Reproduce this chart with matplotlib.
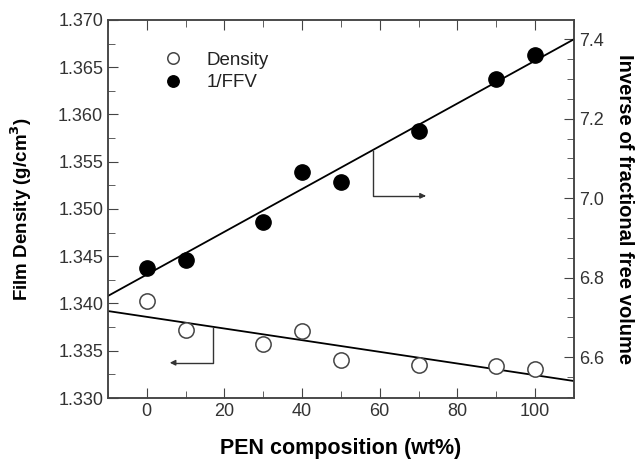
import matplotlib
matplotlib.use('Agg')
import matplotlib.pyplot as plt
from matplotlib.ticker import MultipleLocator

plt.rcParams['font.family'] = ['Liberation Sans', 'DejaVu Sans']

# PEN composition (wt%)
pen = [0, 10, 30, 40, 50, 70, 90, 100]
# film density (g/cm3), left axis
density = [1.3403, 1.3372, 1.3357, 1.3371, 1.3340, 1.3335, 1.3334, 1.3331]
# inverse of fractional free volume, right axis
inv_ffv = [6.825, 6.844, 6.939, 7.067, 7.042, 7.170, 7.300, 7.361]

# linear fits drawn across the plot
fit_x = [-10, 110]
density_fit = [1.3392, 1.3318]
ffv_fit = [6.754, 7.400]

fig = plt.figure(figsize=(6.39, 4.62), dpi=100)
ax1 = fig.add_subplot(111)
fig.subplots_adjust(left=0.169, right=0.898, top=0.957, bottom=0.1385)
ax2 = ax1.twinx()

tick_col = '#333333'
ax1.plot(fit_x, density_fit, color='k', lw=1.3)
l1, = ax1.plot(pen, density, 'o', mfc='white', mec='#444444', mew=1.1, ms=11,
               label='Density', zorder=3)
ax2.plot(fit_x, ffv_fit, color='k', lw=1.3)
l2, = ax2.plot(pen, inv_ffv, 'o', color='k', ms=11, label='1/FFV', zorder=3)

ax1.set_xlim(-10, 110)
ax1.set_ylim(1.330, 1.370)
ax2.set_ylim(6.497, 7.449)

ax1.xaxis.set_major_locator(MultipleLocator(20))
ax1.xaxis.set_minor_locator(MultipleLocator(10))
ax1.yaxis.set_major_locator(MultipleLocator(0.005))
ax1.yaxis.set_minor_locator(MultipleLocator(0.0025))
ax1.yaxis.set_major_formatter(plt.FormatStrFormatter('%.3f'))
ax2.yaxis.set_major_locator(MultipleLocator(0.2))
ax2.yaxis.set_minor_locator(MultipleLocator(0.05))
ax2.yaxis.set_major_formatter(plt.FormatStrFormatter('%.1f'))

ax1.tick_params(which='both', direction='in', top=True, labelsize=13,
                labelcolor=tick_col, color='#444444')
ax1.tick_params(which='major', length=7)
ax1.tick_params(which='minor', length=5)
ax2.tick_params(which='both', direction='in', labelsize=13,
                labelcolor=tick_col, color='#444444')
ax2.tick_params(which='major', length=7)
ax2.tick_params(which='minor', length=5)

for a in (ax1, ax2):
    for s in a.spines.values():
        s.set_color('#444444')
        s.set_linewidth(1.1)

ax1.set_xlabel('PEN composition (wt%)', fontsize=15.5, fontweight='bold', labelpad=13)
ax1.set_ylabel('Film Density (g/cm$^\\mathbf{3}$)', fontsize=13.5, fontweight='bold', labelpad=17)
ax2.set_ylabel('Inverse of fractional free volume', fontsize=14.5, fontweight='bold',
               rotation=270, labelpad=22)

# arrows pointing to the relevant axis
ax2.plot([58.2, 58.2, 71.0], [7.119, 7.006, 7.006], color='#333333', lw=1)
ax2.annotate('', xy=(72.6, 7.006), xytext=(70.5, 7.006),
             arrowprops=dict(arrowstyle='-|>', color='#333333', lw=1, mutation_scale=8))
ax1.plot([17.1, 17.1, 7.0], [1.3374, 1.33373, 1.33373], color='#333333', lw=1)
ax1.annotate('', xy=(5.2, 1.33373), xytext=(7.5, 1.33373),
             arrowprops=dict(arrowstyle='-|>', color='#333333', lw=1, mutation_scale=8))

leg = ax1.legend([l1, l2], ['Density', '1/FFV'], loc='upper left',
                 bbox_to_anchor=(0.074, 0.96), frameon=False, fontsize=13.5,
                 markerscale=0.75, handletextpad=1.0, labelspacing=0.28,
                 handlelength=1.5)
for t in leg.get_texts():
    t.set_color('#222222')

fig.savefig('out.png', dpi=100)
